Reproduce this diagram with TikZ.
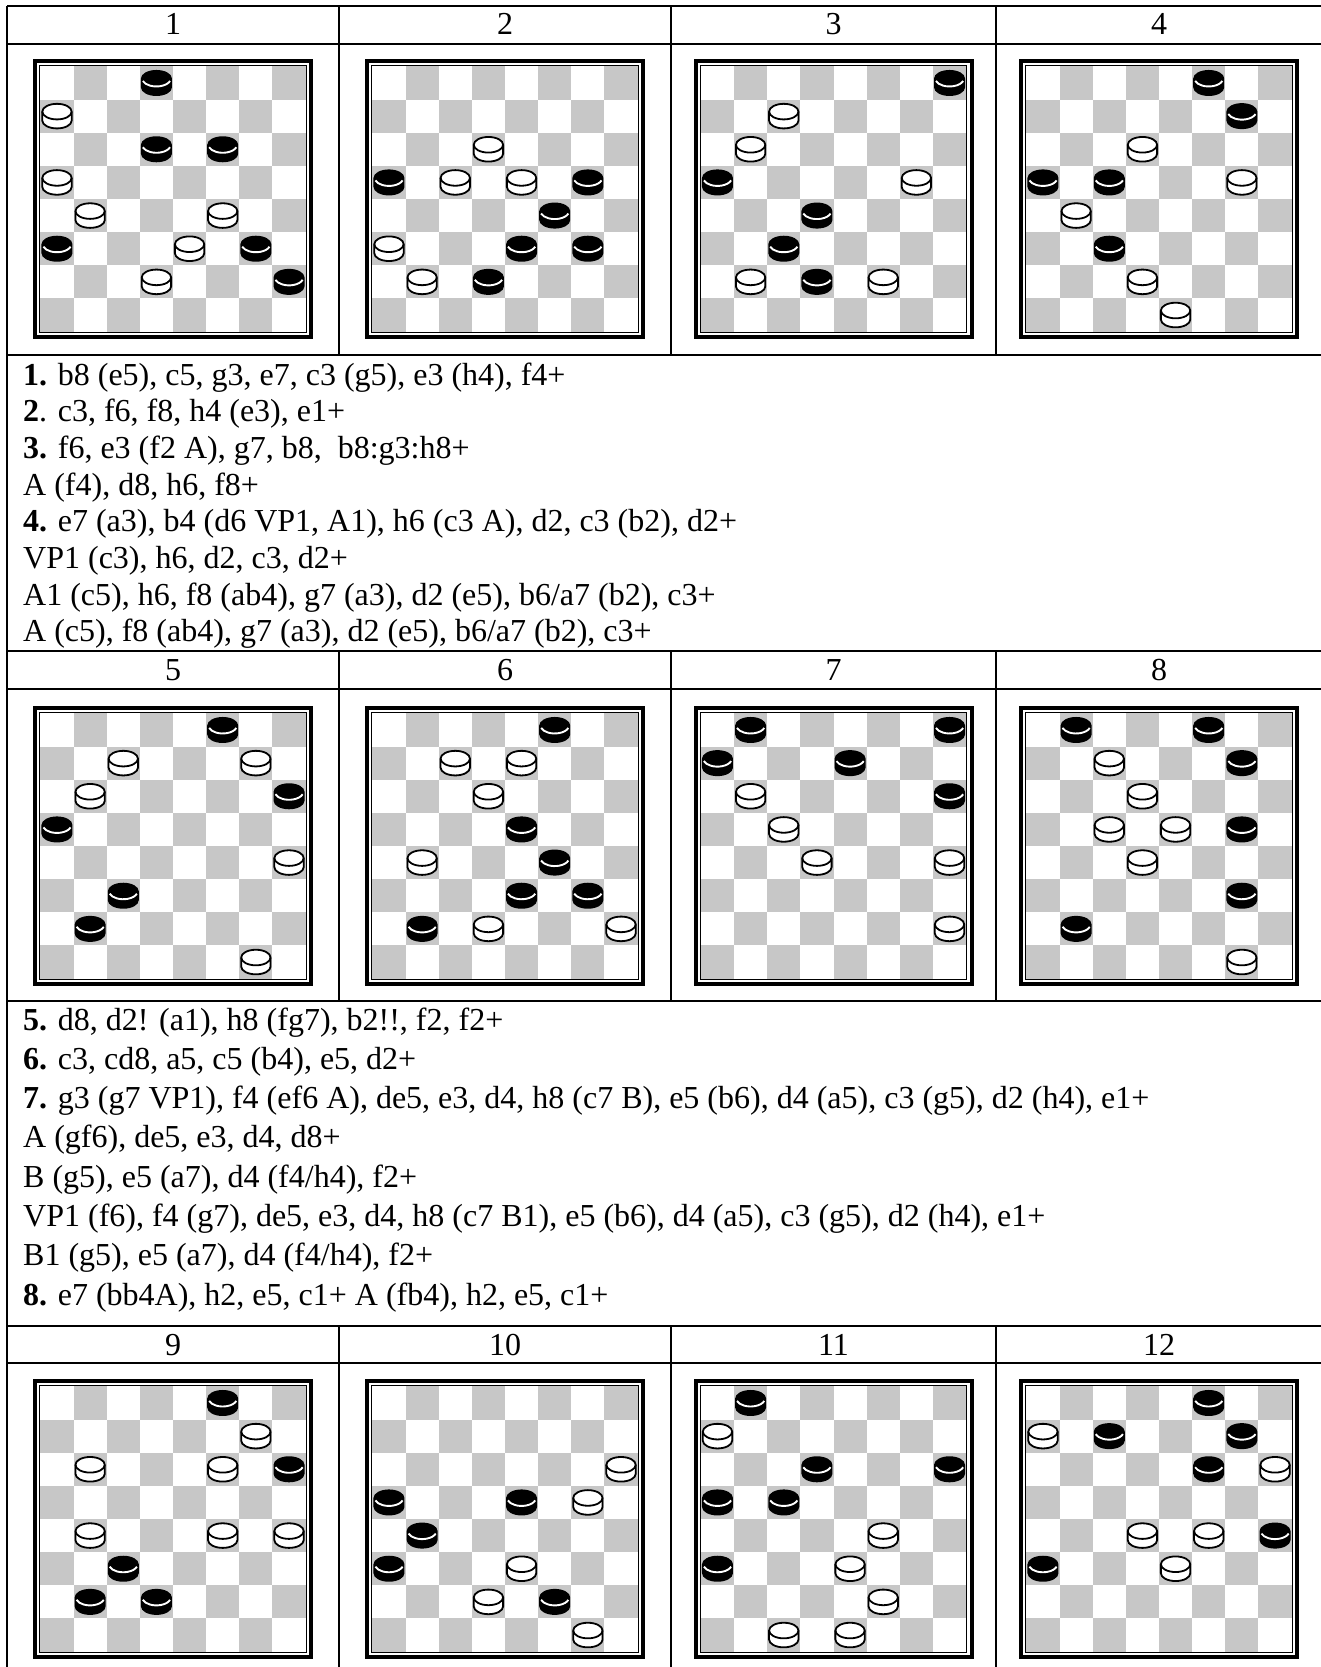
\documentclass[tikz,border=0pt]{standalone}
\usepackage{fontspec}
\setmainfont{Liberation Serif}
\usepackage{tikz}
\definecolor{feldgrau}{gray}{0.78}

\tikzstyle{gitter} = [line width=1.6pt]
\tikzstyle{rahmen} = [line width=4pt]
\tikzstyle{innenrahmen} = [line width=1pt]
\tikzstyle{kopf} = [anchor=base, inner sep=0pt, font=\fontsize{32}{38}\selectfont]
\tikzstyle{zeile} = [anchor=base west, inner sep=0pt, font=\fontsize{32}{38}\selectfont]

\tikzset{
  schwarz/.pic={
    \fill[black] (-15.5,-4.5) arc[start angle=180,end angle=0,x radius=15.5pt,y radius=8.5pt]
      -- (15.5,4.5) arc[start angle=0,end angle=-180,x radius=15.5pt,y radius=8.5pt] -- cycle;
    \draw[white,line width=1.9pt] (0,-4.5) ++(198:14.3pt and 8pt)
      arc[start angle=198,end angle=342,x radius=14.3pt,y radius=8pt];
  },
  weiss/.pic={
    \filldraw[fill=white,draw=black,line width=1.8pt] (-14.7,-4.5) arc[start angle=180,end angle=0,x radius=14.7pt,y radius=7.8pt]
      -- (14.7,4.5) arc[start angle=0,end angle=-180,x radius=14.7pt,y radius=7.8pt] -- cycle;
    \draw[line width=1.8pt] (-14.7,-4.5) arc[start angle=180,end angle=360,x radius=14.7pt,y radius=7.8pt];
  }
}

% Spalten a-h
\newcommand{\spaltea}{1}\newcommand{\spalteb}{2}\newcommand{\spaltec}{3}\newcommand{\spalted}{4}
\newcommand{\spaltee}{5}\newcommand{\spaltef}{6}\newcommand{\spalteg}{7}\newcommand{\spalteh}{8}
\newcommand{\sq}{33.15}

\newcommand{\setzestein}[3]{%
  \edef\spx{\csname spalte#1\endcsname}%
  \pic at ({7.4+(\spx-0.5)*\sq},{7.4+(8.5-#2)*\sq}) {#3};}

% #1,#2 linke obere Ecke, #3 schwarze Steine, #4 weisse Steine
\newcommand{\brett}[4]{%
  \begin{scope}[shift={(#1,#2)}]
    \foreach \i in {1,...,8}
      \foreach \j in {1,...,8} {
        \pgfmathtruncatemacro\dunkel{mod(\i+\j,2)}
        \ifnum\dunkel=0
          \fill[feldgrau] ({7.4+(\i-1)*\sq},{7.4+(8-\j)*\sq}) rectangle ++(\sq,\sq);
        \fi
      }
    \draw[rahmen] (2,2) rectangle (278,278);
    \draw[innenrahmen] (6.8,6.8) rectangle (273.2,273.2);
    \foreach \s in {#3} {\expandafter\setzestein\s{schwarz}}
    \foreach \s in {#4} {\expandafter\setzestein\s{weiss}}
  \end{scope}}

\begin{document}
\begin{tikzpicture}[x=1pt, y=-1pt]
  \useasboundingbox (0,0) rectangle (1321,1667);
  \clip (0,0) rectangle (1321,1667);
  %Tabelle
  \foreach \y in {6,44,355,651,689,1001,1326,1363,1675}
    \draw[gitter] (7,\y) -- (1322,\y);
  \draw[gitter] (7,6) -- (7,1675);
  \draw[gitter] (1322,6) -- (1322,1675);
  \foreach \x in {339,671,996} {
    \draw[gitter] (\x,6) -- (\x,355);
    \draw[gitter] (\x,651) -- (\x,1001);
    \draw[gitter] (\x,1326) -- (\x,1675);
  }
  %Kopfzeilen
  \node[kopf] (k1) at (173,35) {1};
  \node[kopf] (k2) at (505,35) {2};
  \node[kopf] (k3) at (833.5,35) {3};
  \node[kopf] (k4) at (1159,35) {4};
  \node[kopf] (k5) at (173,680) {5};
  \node[kopf] (k6) at (505,680) {6};
  \node[kopf] (k7) at (833.5,680) {7};
  \node[kopf] (k8) at (1159,680) {8};
  \node[kopf] (k9) at (173,1355) {9};
  \node[kopf] (k10) at (505,1355) {10};
  \node[kopf] (k11) at (833.5,1355) {11};
  \node[kopf] (k12) at (1159,1355) {12};
  %Bretter
  \brett{33}{59}{d8,d6,f6,a3,g3,h2}{a7,a5,b4,f4,e3,d2}
  \brett{365}{59}{a5,g5,f4,e3,g3,d2}{d6,c5,e5,a3,b2}
  \brett{693.5}{59}{h8,a5,d4,c3,d2}{c7,b6,g5,b2,f2}
  \brett{1019}{59}{f8,g7,a5,c5,c3}{d6,g5,b4,d2,e1}
  \brett{33}{706}{f8,h6,a5,c3,b2}{c7,g7,b6,h4,g1}
  \brett{365}{706}{f8,e5,f4,e3,g3,b2}{c7,e7,d6,b4,d2,h2}
  \brett{693.5}{706}{b8,h8,a7,e7,h6}{b6,c5,d4,h4,h2}
  \brett{1019}{706}{b8,f8,g7,g5,g3,b2}{c7,d6,c5,e5,d4,g1}
  \brett{33}{1379}{f8,h6,c3,b2,d2}{g7,b6,f6,b4,f4,h4}
  \brett{365}{1379}{a5,e5,b4,a3,f2}{h6,g5,e3,d2,g1}
  \brett{693.5}{1379}{b8,d6,h6,a5,c5,a3}{a7,f4,e3,f2,c1,e1}
  \brett{1019}{1379}{f8,c7,g7,f6,h4,a3}{a7,h6,d4,f4,e3}
  %Loesungen 1-4
  \node[zeile] (z1) at (23,385) {\textbf{1.} b8 (e5), c5, g3, e7, c3 (g5), e3 (h4), f4+};
  \node[zeile] (z2) at (23,421.7) {\textbf{2}. c3, f6, f8, h4 (e3), e1+};
  \node[zeile] (z3) at (23,458.4) {\textbf{3.} f6, e3 (f2 A), g7, b8, \ b8:g3:h8+};
  \node[zeile] (z4) at (23,495.1) {A (f4), d8, h6, f8+};
  \node[zeile] (z5) at (23,531.8) {\textbf{4.} e7 (a3), b4 (d6 VP1, A1), h6 (c3 A), d2, c3 (b2), d2+};
  \node[zeile] (z6) at (23,568.5) {VP1 (c3), h6, d2, c3, d2+};
  \node[zeile] (z7) at (23,605.2) {A1 (c5), h6, f8 (ab4), g7 (a3), d2 (e5), b6/a7 (b2), c3+};
  \node[zeile] (z8) at (23,641.9) {A (c5), f8 (ab4), g7 (a3), d2 (e5), b6/a7 (b2), c3+};
  %Loesungen 5-8
  \node[zeile] (z9) at (23,1030) {\textbf{5.} d8, d2! (a1), h8 (fg7), b2!!, f2, f2+};
  \node[zeile] (z10) at (23,1069.3) {\textbf{6.} c3, cd8, a5, c5 (b4), e5, d2+};
  \node[zeile] (z11) at (23,1108.6) {\textbf{7.} g3 (g7 VP1), f4 (ef6 A), de5, e3, d4, h8 (c7 B), e5 (b6), d4 (a5), c3 (g5), d2 (h4), e1+};
  \node[zeile] (z12) at (23,1147.9) {A (gf6), de5, e3, d4, d8+};
  \node[zeile] (z13) at (23,1187.2) {B (g5), e5 (a7), d4 (f4/h4), f2+};
  \node[zeile] (z14) at (23,1226.5) {VP1 (f6), f4 (g7), de5, e3, d4, h8 (c7 B1), e5 (b6), d4 (a5), c3 (g5), d2 (h4), e1+};
  \node[zeile] (z15) at (23,1265.8) {B1 (g5), e5 (a7), d4 (f4/h4), f2+};
  \node[zeile] (z16) at (23,1305.1) {\textbf{8.} e7 (bb4A), h2, e5, c1+ A (fb4), h2, e5, c1+};
\end{tikzpicture}
\end{document}
